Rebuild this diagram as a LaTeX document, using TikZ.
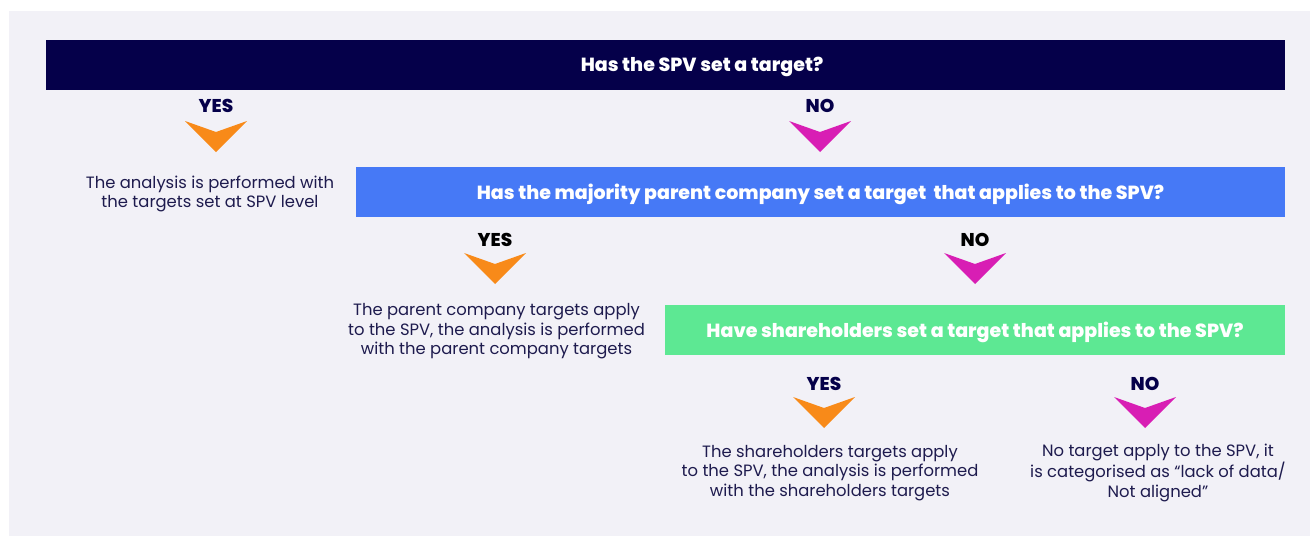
\documentclass[tikz,border=0pt]{standalone}
\usepackage{fontspec}
\setmainfont{Poppins}
\newfontfamily\heavyfont{Poppins}[UprightFont=* ExtraBold]
\usetikzlibrary{positioning}

\definecolor{navy}{HTML}{05004A}
\definecolor{ink}{HTML}{1E1B4E}
\definecolor{panel}{HTML}{F2F1F7}
\definecolor{parentblue}{HTML}{4679F6}
\definecolor{holdergreen}{HTML}{5DE893}
\definecolor{yescol}{HTML}{F88A19}
\definecolor{nocol}{HTML}{D81EB4}

\begin{document}
\begin{tikzpicture}[x=1pt, y=-1pt, node distance=1mm,
    bar/.style={minimum height=50pt, inner sep=0pt, text=white, text depth=0pt,
        font=\fontsize{19}{22}\heavyfont},
    answer/.style={inner sep=0pt, text=navy, font=\fontsize{18.5}{21}\heavyfont},
    outcome/.style={inner sep=0pt, align=center, text=ink,
        font=\fontsize{16.4}{19.5}\selectfont},
    chevron/.pic={\fill[pic actions] (0,0) -- (-31,-31) -- (0,-20) -- (31,-31) -- cycle;}]
    \useasboundingbox (0,0) rectangle (1310,536);
    \fill[panel] (9,11) rectangle (1310,536);

    % first question
    \node[bar, fill=navy, minimum width=1239pt] (spv) at (665.5,64.5) {};
    \node[bar, minimum height=0pt] (spvtext) at (702,64) {Has the SPV set a target?};

    \node[answer] (yesA) at (216,105.5) {YES};
    \node[answer] (noA) at (820,105.5) {NO};
    \path (yesA) ++(0,46.5) pic[fill=yescol] {chevron};
    \path (noA) ++(0,46.5) pic[fill=nocol] {chevron};
    \node[outcome] (spvlevel) at (210,194) {The analysis is performed with\\the targets set at SPV level};

    % second question
    \node[bar, fill=parentblue, minimum width=929pt] (parent) at (820.5,192) {Has the majority parent company set a target~ that applies to the SPV?};

    \node[answer, text=black] (yesB) at (495,239.5) {YES};
    \node[answer, text=black] (noB) at (975,239.5) {NO};
    \path (yesB) ++(0,44.5) pic[fill=yescol] {chevron};
    \path (noB) ++(0,44.5) pic[fill=nocol] {chevron};
    \node[outcome] (parentlevel) at (496.5,331.5) {The parent company targets apply\\to the SPV, the analysis is performed\\with the parent company targets};

    % third question
    \node[bar, fill=holdergreen, minimum width=620pt] (holders) at (975,330) {Have shareholders set a target that applies to the SPV?};

    \node[answer] (yesC) at (824,383.5) {YES};
    \node[answer] (noC) at (1145,383.5) {NO};
    \path (yesC) ++(0,44.5) pic[fill=yescol] {chevron};
    \path (noC) ++(0,44.5) pic[fill=nocol] {chevron};
    \node[outcome] (holderlevel) at (830,473) {The shareholders targets apply\\to the SPV, the analysis is performed\\with the shareholders targets};
    \node[outcome] (notarget) at (1158,473) {No target apply to the SPV, it\\is categorised as “lack of data/\\Not aligned”};
\end{tikzpicture}
\end{document}
